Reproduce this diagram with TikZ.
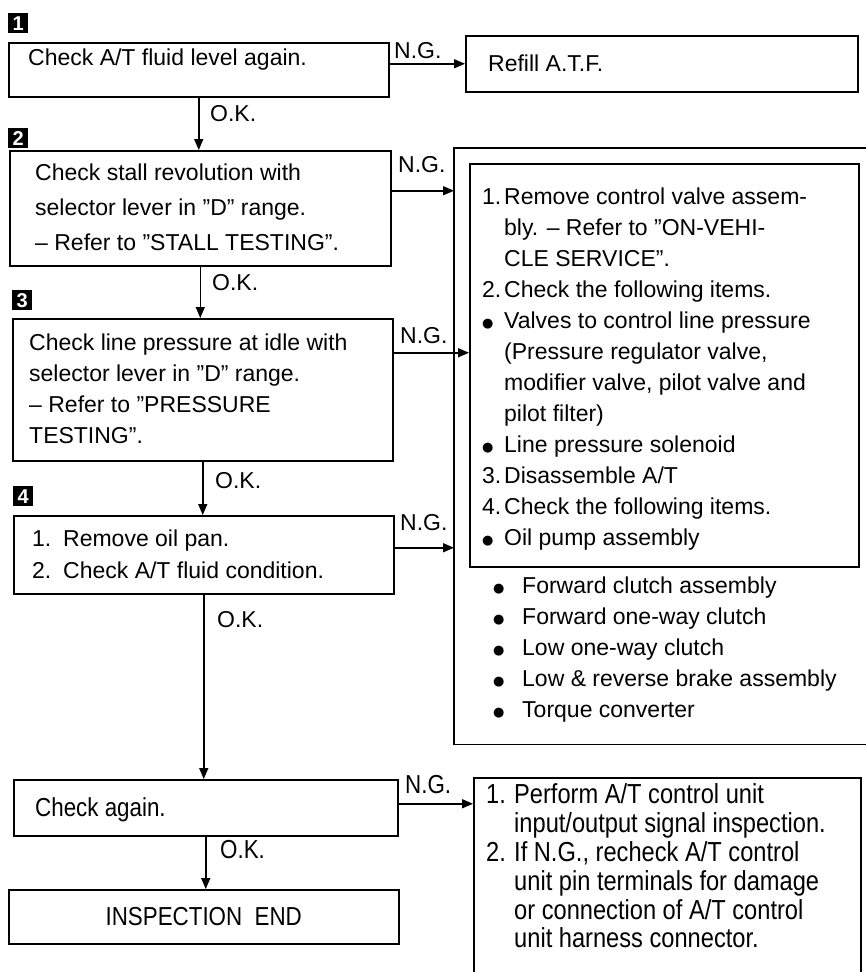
\documentclass[tikz,border=0pt]{standalone}
\usepackage{fontspec}
\setmainfont{Liberation Sans}
\newfontfamily\condfont[FakeStretch=0.86]{Liberation Sans}
\newfontfamily\dvfont{DejaVu Sans}
\usetikzlibrary{arrows.meta,calc}
\newcommand\mainsz{\fontsize{23}{31}\selectfont}
\newcommand\condsz{\condfont\fontsize{26}{28.8}\selectfont}
\newcommand\condszB{\condfont\fontsize{27.5}{28.8}\selectfont}
\newcommand\lblA[1]{\makebox[22pt][l]{#1}}
\newcommand\lblB[1]{\makebox[31pt][l]{#1}}
\newcommand\lblC[1]{\makebox[28pt][l]{#1}}
\newcommand\blt{\raisebox{1pt}{\dvfont\fontsize{13}{13}\selectfont ●}}
\newcommand\bltA{\makebox[22pt][l]{\blt}}
\newcommand\bltB{\makebox[29pt][l]{\blt}}
\tikzset{
  box/.style={draw, line width=1.5pt, anchor=north west, inner sep=0pt},
  txt/.style={anchor=west, inner sep=0pt, align=left, font=\mainsz},
  lab/.style={inner sep=0pt, font=\mainsz, anchor=base west},
  clab/.style={inner sep=0pt, font=\condsz, anchor=base west},
  arr/.style={line width=1.5pt, -{Triangle[length=11pt,width=9pt]}},
  badge/.style={fill=black, text=white, minimum size=20pt, inner sep=0pt, anchor=north west, font=\bfseries\fontsize{20}{20}\selectfont},
}
\begin{document}
\begin{tikzpicture}[x=1pt,y=-1pt]
\useasboundingbox (0,0) rectangle (865,972);
% badges
\node[badge] (bd1) at (8,13) {1};
\node[badge] (bd2) at (8,128) {2};
\node[badge] (bd3) at (12,290) {3};
\node[badge] (bd4) at (13,486) {4};
% boxes
\node[box, minimum width=380pt, minimum height=54pt] (b1) at (8,42) {};
\node[box, minimum width=392pt, minimum height=56pt] (refill) at (465,35) {};
\node[box, minimum width=381pt, minimum height=115pt] (b2) at (9,150) {};
\node[box, minimum width=380pt, minimum height=142pt] (b3) at (12,318) {};
\node[box, minimum width=380pt, minimum height=78pt] (b4) at (13,515) {};
\node[box, minimum width=384pt, minimum height=56pt] (b5) at (13,779) {};
\node[box, minimum width=390pt, minimum height=54pt] (b6) at (8,889) {};
\node[box, draw=none, minimum width=420pt, minimum height=595pt] (outer) at (454,148) {};
\draw[line width=1.5pt] (outer.north east) -- (outer.north west) -- (outer.south west) -- (outer.south east);
\node[box, minimum width=389pt, minimum height=403pt] (inner) at (469,163) {};
\node[box, minimum width=387pt, minimum height=215pt] (rbox) at (473,777) {};
% texts
\node[txt] (b1t) at (28,60) {Check A/T fluid level again.};
\node[txt] (refillt) at (488,63) {Refill A.T.F.};
\node[txt, font=\fontsize{23}{35}\selectfont] (b2t) at (35,207) {Check stall revolution with\\selector lever in ”D” range.\\– Refer to ”STALL TESTING”.};
\node[txt] (b3t) at (29,389) {Check line pressure at idle with\\selector lever in ”D” range.\\– Refer to ”PRESSURE\\TESTING”.};
\node[txt, font=\fontsize{23}{32}\selectfont] (b4t) at (32,554) {\lblB{1.}Remove oil pan.\\\lblB{2.}Check A/T fluid condition.};
\node[txt, font=\condsz] (b5t) at (35,810) {Check again.};
\node[anchor=center, inner sep=0pt, font=\condsz] (b6t) at (b6.center) {INSPECTION\ \ END};
\node[txt] (innert) at (482,369) {\lblA{1.}Remove control valve assem-\\\lblA{}bly. – Refer to ”ON-VEHI-\\\lblA{}CLE SERVICE”.\\\lblA{2.}Check the following items.\\\bltA Valves to control line pressure\\\lblA{}(Pressure regulator valve,\\\lblA{}modifier valve, pilot valve and\\\lblA{}pilot filter)\\\bltA Line pressure solenoid\\\lblA{3.}Disassemble A/T\\\lblA{4.}Check the following items.\\\bltA Oil pump assembly};
\node[txt] (lowert) at (493,650) {\bltB Forward clutch assembly\\\bltB Forward one-way clutch\\\bltB Low one-way clutch\\\bltB Low \& reverse brake assembly\\\bltB Torque converter};
\node[txt, font=\condszB] (rboxt) at (486,866) {\lblC{1.}Perform A/T control unit\\\lblC{}input/output signal inspection.\\\lblC{2.}If N.G., recheck A/T control\\\lblC{}unit pin terminals for damage\\\lblC{}or connection of A/T control\\\lblC{}unit harness connector.};
% connectors
\draw[arr] (b1.east |- refill.west) -- (refill.west);
\draw[arr] (b1.south) -- (b1.south |- b2.north);
\coordinate (n2) at ([yshift=17.5pt]b2.east);
\draw[arr] (n2) -- (n2 -| outer.west);
\draw[arr] (b2.south) -- (b2.south |- b3.north);
\coordinate (n3) at ([yshift=37pt]b3.east);
\draw[arr] (n3) -- (n3 -| inner.west);
\draw[arr] (b3.south) -- (b3.south |- b4.north);
\coordinate (n4) at ([yshift=7pt]b4.east);
\draw[arr] (n4) -- (n4 -| outer.west);
\draw[arr] (b4.south) -- (b4.south |- b5.north);
\coordinate (n5) at ([yshift=4pt]b5.east);
\draw[arr] (n5) -- (n5 -| rbox.west);
\draw[arr] (b5.south) -- (b5.south |- b6.north);
% labels
\node[lab] (ng1) at (394,58) {N.G.};
\node[lab] (ok1) at (210,121) {O.K.};
\node[lab] (ng2) at (398,172) {N.G.};
\node[lab] (ok2) at (212,290) {O.K.};
\node[lab] (ng3) at (400,343) {N.G.};
\node[lab] (ok3) at (215,488) {O.K.};
\node[lab] (ng4) at (400,530) {N.G.};
\node[lab] (ok4) at (217,627) {O.K.};
\node[clab] (ng5) at (405,793) {N.G.};
\node[clab] (ok5) at (220,858) {O.K.};
\end{tikzpicture}
\end{document}
